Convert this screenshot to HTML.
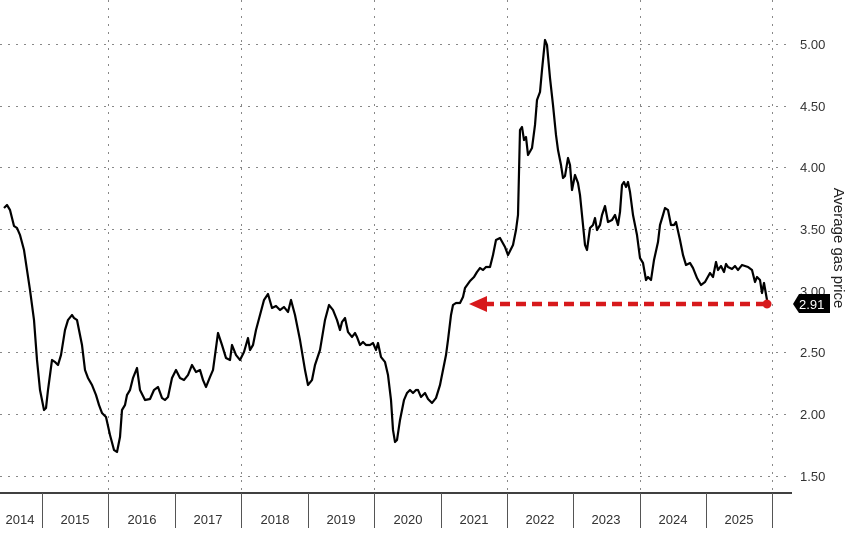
<!DOCTYPE html>
<html><head><meta charset="utf-8"><style>
html,body{margin:0;padding:0;background:#fff;}
svg{display:block;font-family:"Liberation Sans",sans-serif;}
</style></head><body>
<svg width="847" height="533" viewBox="0 0 847 533" xmlns="http://www.w3.org/2000/svg">
<g stroke="#888" stroke-width="1" stroke-dasharray="2,6">
<line x1="0" y1="44.5" x2="792" y2="44.5"/>
<line x1="0" y1="106.5" x2="792" y2="106.5"/>
<line x1="0" y1="167.5" x2="792" y2="167.5"/>
<line x1="0" y1="229.5" x2="792" y2="229.5"/>
<line x1="0" y1="291.5" x2="792" y2="291.5"/>
<line x1="0" y1="352.5" x2="792" y2="352.5"/>
<line x1="0" y1="414.5" x2="792" y2="414.5"/>
<line x1="0" y1="476.5" x2="792" y2="476.5"/>
<line x1="108.5" y1="0" x2="108.5" y2="493"/>
<line x1="241.5" y1="0" x2="241.5" y2="493"/>
<line x1="374.5" y1="0" x2="374.5" y2="493"/>
<line x1="507.5" y1="0" x2="507.5" y2="493"/>
<line x1="640.5" y1="0" x2="640.5" y2="493"/>
<line x1="772.5" y1="0" x2="772.5" y2="493"/>
</g>
<line x1="0" y1="493" x2="792" y2="493" stroke="#000" stroke-width="1.5"/>
<g stroke="#555" stroke-width="1">
<line x1="42.5" y1="493" x2="42.5" y2="528"/><line x1="108.5" y1="493" x2="108.5" y2="528"/>
<line x1="175.5" y1="493" x2="175.5" y2="528"/><line x1="241.5" y1="493" x2="241.5" y2="528"/>
<line x1="308.5" y1="493" x2="308.5" y2="528"/><line x1="374.5" y1="493" x2="374.5" y2="528"/>
<line x1="441.5" y1="493" x2="441.5" y2="528"/><line x1="507.5" y1="493" x2="507.5" y2="528"/>
<line x1="573.5" y1="493" x2="573.5" y2="528"/><line x1="640.5" y1="493" x2="640.5" y2="528"/>
<line x1="706.5" y1="493" x2="706.5" y2="528"/><line x1="772.5" y1="493" x2="772.5" y2="528"/>
</g>
<g font-size="13" fill="#333" text-anchor="middle">
<text x="20" y="524">2014</text><text x="75" y="524">2015</text><text x="142" y="524">2016</text>
<text x="208" y="524">2017</text><text x="275" y="524">2018</text><text x="341" y="524">2019</text>
<text x="408" y="524">2020</text><text x="474" y="524">2021</text><text x="540" y="524">2022</text>
<text x="606" y="524">2023</text><text x="673" y="524">2024</text><text x="739" y="524">2025</text>
</g>
<g font-size="13" fill="#333">
<text x="800" y="49">5.00</text><text x="800" y="111">4.50</text><text x="800" y="172">4.00</text>
<text x="800" y="234">3.50</text><text x="800" y="296">3.00</text><text x="800" y="357">2.50</text>
<text x="800" y="419">2.00</text><text x="800" y="481">1.50</text>
</g>
<text transform="translate(834,248) rotate(90)" font-size="15" fill="#222" text-anchor="middle">Average gas price</text>
<polyline fill="none" stroke="#000" stroke-width="2.2" stroke-linejoin="round" points="4,208 7,205 10,210 14,226 17,228 20,235 24,250 27,270 30,290 34,320 37,360 40,390 44,410 46,408 48,390 52,360 55,362 58,365 61,355 65,330 68,320 72,315 74,318 77,320 80,335 82,345 85,370 88,378 92,385 96,395 99,405 102,413 106,417 110,435 114,450 117,452 120,437 122,410 125,405 127,395 130,390 133,378 137,368 140,390 145,400 150,399 154,390 158,387 162,398 165,400 168,397 172,378 176,370 180,378 184,380 188,375 192,365 196,372 200,370 203,380 206,387 210,377 213,370 218,333 222,345 226,358 230,360 232,345 236,355 240,360 244,352 248,338 250,350 253,345 256,330 260,315 264,300 268,294 272,308 276,306 280,310 284,307 288,312 291,300 295,315 300,340 305,370 308,385 312,380 315,365 320,350 325,320 329,305 333,310 337,320 340,330 342,322 345,318 348,332 352,337 355,333 357,337 360,345 363,342 366,345 370,345 373,343 376,350 378,343 381,357 385,362 388,375 391,400 393,430 395,442 397,440 400,420 404,400 407,393 410,390 413,393 416,390 418,390 421,397 425,393 428,399 432,403 436,398 440,385 443,370 446,355 448,340 451,315 453,305 456,303 460,303 463,297 465,288 470,281 474,277 477,272 480,268 483,270 486,267 490,267 493,255 496,240 500,238 505,247 508,255 513,245 516,230 518,215 520,130 522,127 524,140 526,137 528,155 532,148 535,125 537,100 540,92 542,70 545,40 547,45 550,78 553,105 556,135 558,150 561,165 563,178 565,176 568,158 570,165 572,190 575,175 578,183 580,195 583,225 585,245 587,250 590,228 593,225 595,218 597,230 600,225 602,215 605,206 608,222 612,220 615,215 618,225 620,212 622,185 624,182 626,187 628,182 630,192 633,215 637,235 640,258 643,263 646,280 648,277 651,280 654,260 658,242 660,225 663,215 665,208 668,210 671,225 674,225 676,222 680,240 683,255 686,265 690,263 693,268 697,278 701,285 705,282 710,273 713,277 716,262 718,270 721,266 724,272 726,264 728,267 732,269 735,266 738,270 742,265 745,266 748,267 752,270 755,282 757,277 760,280 762,293 764,283 767,300 768,304"/>
<line x1="484" y1="304" x2="767" y2="304" stroke="#d7191c" stroke-width="4.5" stroke-dasharray="10,6"/>
<polygon points="469,304 487,296 487,312" fill="#d7191c"/>
<circle cx="767" cy="304" r="4.5" fill="#d7191c"/>
<polygon points="793,304 799,294 830,294 830,313 799,313" fill="#000"/>
<text x="799" y="309" font-size="13" fill="#fff">2.91</text>
</svg>
</body></html>
